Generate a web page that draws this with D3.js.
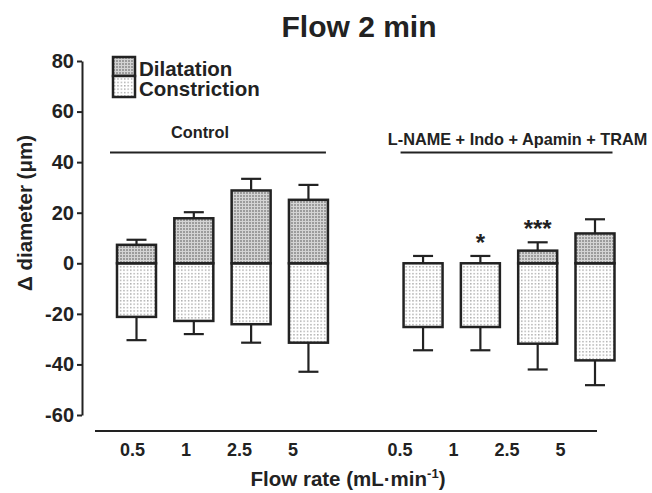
<!DOCTYPE html>
<html>
<head>
<meta charset="utf-8">
<style>
  body { margin: 0; background: #fff; }
  svg text { font-family: "Liberation Sans", Arial, sans-serif; font-weight: bold; fill: #222; }
</style>
<title>Flow 2 min</title>
</head>
<body>
<div id="chart"></div>
<script src="https://cdnjs.cloudflare.com/ajax/libs/d3/7.8.5/d3.min.js"></script>
<script>
// flow rates, two groups of four
var categories = ["0.5", "1", "2.5", "5", "0.5", "1", "2.5", "5"];
var slots = [0, 1, 2, 3, 5, 6, 7, 8];           // position index, slot 4 is the gap
var dilatation = [7.3, 17.8, 28.8, 25.1, 0, 0, 5.0, 11.8];
var dilatationErr = [2.0, 2.4, 4.6, 5.9, 2.9, 2.9, 3.3, 5.6];
var constriction = [-21.2, -22.8, -24.1, -31.4, -25.2, -25.2, -31.8, -38.4];
var constrictionErr = [9.2, 5.2, 7.3, 11.5, 9.2, 9.2, 10.2, 9.8];
var significance = ["", "", "", "", "", "*", "***", ""];
var yTicks = [-60, -40, -20, 0, 20, 40, 60, 80];
var groups = ["Control", "L-NAME + Indo + Apamin + TRAM"];
var groupSlots = [[0, 3], [5, 8]];

var width = 652, height = 493;
var barW = 39;

var svg = d3.select("#chart").append("svg")
    .attr("width", width)
    .attr("height", height);

var defs = svg.append("defs");
// gray plaid for dilatation
var pd = defs.append("pattern").attr("id", "dil")
    .attr("patternUnits", "userSpaceOnUse").attr("width", 3).attr("height", 3);
pd.append("rect").attr("width", 3).attr("height", 3).attr("fill", "#9c9c9c");
pd.append("rect").attr("x", 0).attr("y", 2).attr("width", 3).attr("height", 1).attr("fill", "#d4d4d4");
pd.append("rect").attr("x", 2).attr("y", 0).attr("width", 1).attr("height", 3).attr("fill", "#d4d4d4");
// dots for constriction
var pc = defs.append("pattern").attr("id", "con")
    .attr("patternUnits", "userSpaceOnUse").attr("width", 3.4).attr("height", 3.4);
pc.append("rect").attr("width", 3.4).attr("height", 3.4).attr("fill", "#fff");
pc.append("rect").attr("x", 1).attr("y", 1).attr("width", 1.2).attr("height", 1.2).attr("fill", "#8a8a8a");

var y = d3.scaleLinear().domain([-60, 80]).range([415, 61]);
var x = d3.scaleLinear().domain([0, 8]).range([136.5, 595]);
var xLab = d3.scaleLinear().domain([0, 8]).range([132, 560]);

// title
svg.append("text")
    .attr("x", 359).attr("y", 37)
    .attr("text-anchor", "middle")
    .style("font-size", "30px")
    .text("Flow 2 min");

// y axis
var yAxis = svg.append("g")
    .attr("transform", "translate(82,0)")
    .call(d3.axisLeft(y).tickValues(yTicks).tickSize(5).tickSizeOuter(0).tickPadding(3)
        .tickFormat(function (d) { return String(d); }));
yAxis.select(".domain").attr("stroke", "#222").attr("stroke-width", 2);
yAxis.selectAll(".tick line").attr("stroke", "#222").attr("stroke-width", 2);
yAxis.selectAll(".tick text")
    .style("font-size", "20px")
    .style("font-family", "'Liberation Sans', Arial, sans-serif")
    .attr("fill", "#222");

svg.append("text")
    .attr("transform", "translate(32,213) rotate(-90)")
    .attr("text-anchor", "middle")
    .style("font-size", "20.5px")
    .text("\u0394 diameter (\u03bcm)");

// bottom line + labels
svg.append("line")
    .attr("x1", 95).attr("x2", 597)
    .attr("y1", 431).attr("y2", 431)
    .attr("stroke", "#222").attr("stroke-width", 2);

var xAxis = svg.append("g")
    .attr("transform", "translate(0,443)")
    .call(d3.axisBottom(xLab).tickValues(slots).tickSize(0).tickPadding(0)
        .tickFormat(function (d) { return categories[slots.indexOf(d)]; }));
xAxis.select(".domain").remove();
xAxis.selectAll(".tick text")
    .style("font-size", "18px")
    .style("font-family", "'Liberation Sans', Arial, sans-serif")
    .attr("fill", "#222");

var xt = svg.append("text")
    .attr("x", 348).attr("y", 486)
    .attr("text-anchor", "middle")
    .style("font-size", "20.5px");
xt.append("tspan").text("Flow rate (mL\u00b7min");
xt.append("tspan").attr("dy", -8).style("font-size", "13px").text("-1");
xt.append("tspan").attr("dy", 8).text(")");

// group lines and names
groups.forEach(function (g, i) {
    var x1 = x(groupSlots[i][0]) - barW / 2 - (i == 0 ? 7 : 3);
    var x2 = x(groupSlots[i][1]) + barW / 2 - 2;
    svg.append("line")
        .attr("x1", x1).attr("x2", x2)
        .attr("y1", 152.5).attr("y2", 152.5)
        .attr("stroke", "#222").attr("stroke-width", 2);
    svg.append("text")
        .attr("x", (x1 + x2) / 2 + (i == 0 ? -18 : 11))
        .attr("y", i == 0 ? 138 : 145)
        .attr("text-anchor", "middle")
        .style("font-size", "16.3px")
        .text(g);
});

// error bars
var bars = svg.append("g");
slots.forEach(function (s, i) {
    var cx = x(s);
    var top = dilatation[i] + dilatationErr[i];
    var bot = constriction[i] - constrictionErr[i];
    bars.append("line").attr("x1", cx).attr("x2", cx)
        .attr("y1", y(dilatation[i])).attr("y2", y(top))
        .attr("stroke", "#222").attr("stroke-width", 2.2);
    bars.append("line").attr("x1", cx - 10).attr("x2", cx + 10)
        .attr("y1", y(top)).attr("y2", y(top))
        .attr("stroke", "#222").attr("stroke-width", 2.2);
    bars.append("line").attr("x1", cx).attr("x2", cx)
        .attr("y1", y(constriction[i])).attr("y2", y(bot))
        .attr("stroke", "#222").attr("stroke-width", 2.2);
    bars.append("line").attr("x1", cx - 10).attr("x2", cx + 10)
        .attr("y1", y(bot)).attr("y2", y(bot))
        .attr("stroke", "#222").attr("stroke-width", 2.2);

    // constriction box
    bars.append("rect")
        .attr("x", cx - barW / 2).attr("width", barW)
        .attr("y", y(0)).attr("height", y(constriction[i]) - y(0))
        .attr("fill", "url(#con)")
        .attr("stroke", "#222").attr("stroke-width", 2.5);
    // dilatation box
    if (dilatation[i] > 0) {
        bars.append("rect")
            .attr("x", cx - barW / 2).attr("width", barW)
            .attr("y", y(dilatation[i])).attr("height", y(0) - y(dilatation[i]))
            .attr("fill", "url(#dil)")
            .attr("stroke", "#222").attr("stroke-width", 2.5);
    }

    if (significance[i]) {
        svg.append("text")
            .attr("x", cx).attr("y", y(top) - 5)
            .attr("text-anchor", "middle")
            .style("font-size", "24px")
            .text(significance[i]);
    }
});

// legend
var lg = svg.append("g").attr("transform", "translate(113,57)");
lg.append("rect").attr("width", 22).attr("height", 19)
    .attr("fill", "url(#dil)").attr("stroke", "#222").attr("stroke-width", 2.5);
lg.append("rect").attr("y", 19).attr("width", 22).attr("height", 21)
    .attr("fill", "url(#con)").attr("stroke", "#222").attr("stroke-width", 2.5);
lg.append("text").attr("x", 26).attr("y", 19).style("font-size", "20.5px").text("Dilatation");
lg.append("text").attr("x", 26).attr("y", 38.5).style("font-size", "20.5px").text("Constriction");
</script>
</body>
</html>
